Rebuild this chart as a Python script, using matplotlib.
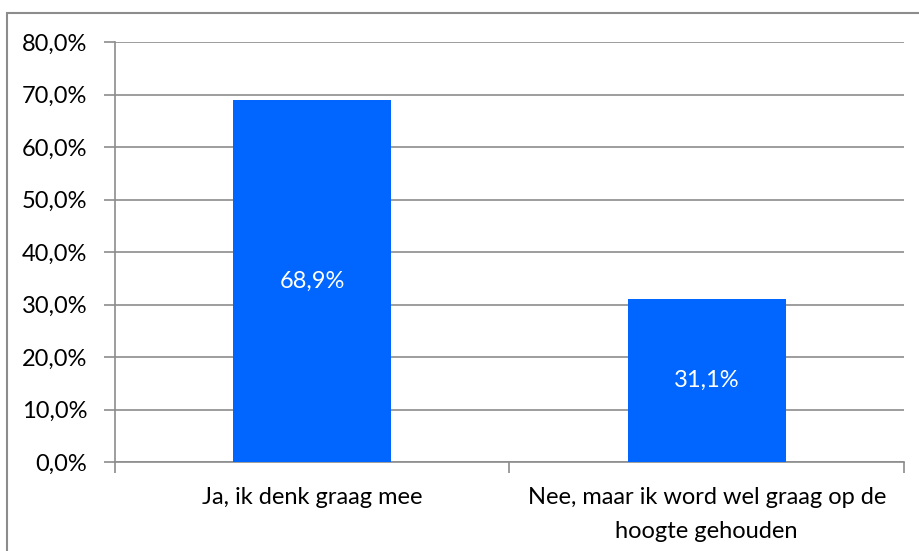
import matplotlib.pyplot as plt
from matplotlib.patches import Rectangle
from matplotlib.ticker import FuncFormatter

categories = ['Ja, ik denk graag mee',
              'Nee, maar ik word wel graag op de\nhoogte gehouden']
values = [68.9, 31.1]
y_ticks = [0, 10, 20, 30, 40, 50, 60, 70, 80]

plt.rcParams['font.family'] = ['Lato', 'DejaVu Sans']
grey = '#8c8c8c'
fs = 17

fig = plt.figure(figsize=(9.2, 5.51), dpi=100)
ax = fig.add_axes([115 / 920, 1 - 462 / 551, 789 / 920, 420 / 551])

x = range(len(categories))
bars = ax.bar(x, values, width=0.4, color='#0066ff', zorder=3)
for b, v in zip(bars, values):
    ax.text(b.get_x() + b.get_width() / 2, v / 2,
            f'{v:.1f}%'.replace('.', ','), color='white',
            ha='center', va='center', fontsize=fs, zorder=4)

ax.set_xlim(-0.5, len(categories) - 0.5)
ax.set_ylim(0, 80)
ax.set_yticks(y_ticks)
ax.yaxis.set_major_formatter(FuncFormatter(lambda v, p: f'{v:.1f}%'.replace('.', ',')))
ax.grid(axis='y', color=grey, linewidth=1.2, zorder=0)

ax.set_xticks([-0.5, 0.5, 1.5])
ax.set_xticklabels([])
ax.set_xticks(list(x), minor=True)
ax.set_xticklabels(categories, minor=True, fontsize=fs, linespacing=1.75)
ax.tick_params(axis='x', which='minor', length=0, pad=18)
ax.tick_params(axis='x', which='major', length=8, width=1.2, color=grey)
ax.tick_params(axis='y', length=8, width=1.2, color=grey, labelsize=fs, pad=12)

for s in ['top', 'right']:
    ax.spines[s].set_visible(False)
for s in ['left', 'bottom']:
    ax.spines[s].set_color(grey)
    ax.spines[s].set_linewidth(1.2)

# outer frame around the chart
fig.patches.append(Rectangle((7 / 920, -0.05), 1.05, 1.05 - 13 / 551,
                             transform=fig.transFigure, fill=False,
                             edgecolor=grey, linewidth=1.5))

fig.savefig('out.png', dpi=100)
